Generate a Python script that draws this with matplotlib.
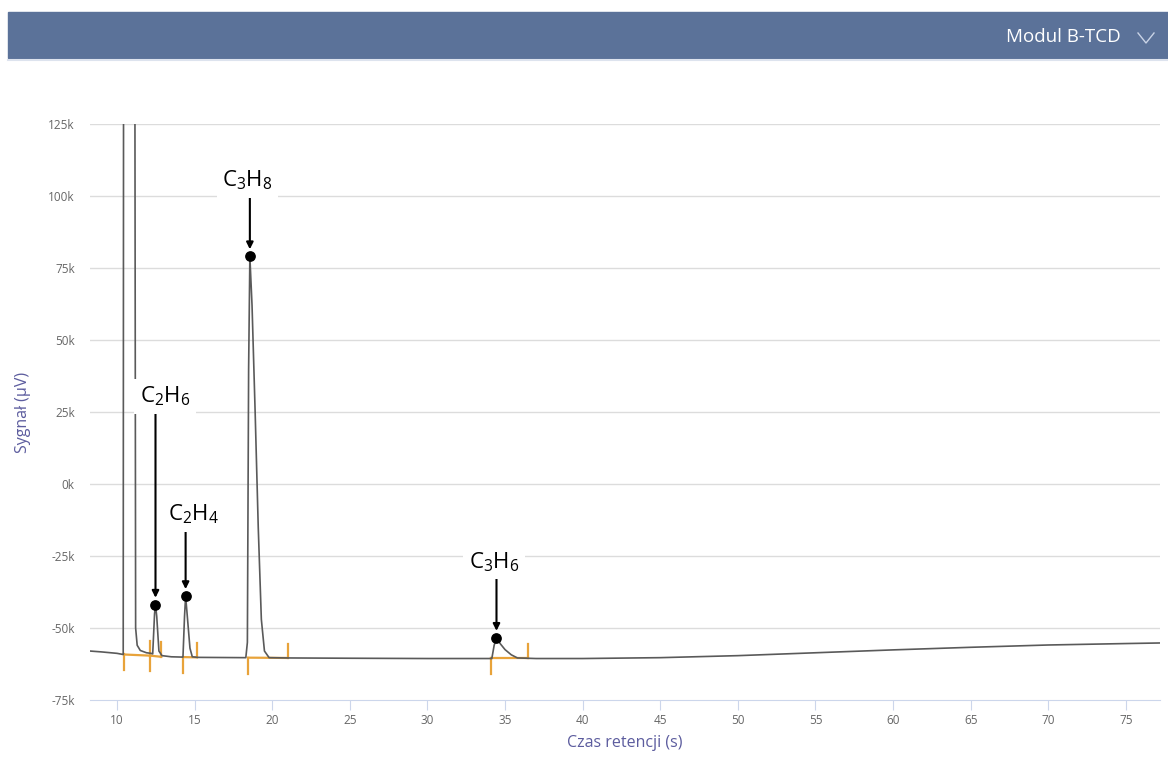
import matplotlib.pyplot as plt
from matplotlib.patches import Rectangle
from matplotlib.lines import Line2D

plt.rcParams['font.family'] = ['Open Sans', 'DejaVu Sans']
plt.rcParams['mathtext.fontset'] = 'custom'
plt.rcParams['mathtext.rm'] = 'Open Sans'
plt.rcParams['mathtext.it'] = 'Open Sans'

# detector trace: time (s) and signal (k uV)
time = [8.26, 9.0, 10.0, 10.4, 10.45, 11.05, 11.15, 11.2, 11.3, 11.5, 11.9, 12.2,
        12.3, 12.42, 12.48, 12.56, 12.7, 12.9, 13.5, 14.2,
        14.25, 14.35, 14.42, 14.5, 14.7, 14.85, 15.2,
        18.3, 18.4, 18.48, 18.56, 18.7, 18.9, 19.1, 19.3, 19.5, 19.8, 21.0,
        25.0, 30.0, 34.1,
        34.15, 34.3, 34.45, 34.7, 35.0, 35.4, 35.8, 37.0,
        40.0, 45.0, 50.0, 55.0, 60.0, 65.0, 70.0, 75.0, 77.2]
signal = [-58.0, -58.3, -58.8, -59.2, 400, 400, 150, -50, -56, -57.8, -58.6, -58.8,
          -59.0, -45, -42, -46, -58, -59.6, -60.0, -60.1,
          -60.1, -46, -39, -44, -57, -60.0, -60.2,
          -60.3, -55, 40, 79, 62, 25, -15, -47, -58, -60.3, -60.4,
          -60.5, -60.6, -60.6,
          -60.6, -56, -53.5, -55.5, -57.5, -59.3, -60.4, -60.6,
          -60.6, -60.3, -59.6, -58.6, -57.6, -56.7, -55.9, -55.4, -55.2]

# identified peaks: apex and label position
peak_names = [r'$\mathregular{C_2H_6}$', r'$\mathregular{C_2H_4}$',
              r'$\mathregular{C_3H_8}$', r'$\mathregular{C_3H_6}$']
peak_t = [12.48, 14.42, 18.56, 34.45]
peak_v = [-42, -39, 79, -53.5]
label_t = [13.1, 14.9, 18.4, 34.3]
label_v = [30.5, -10.5, 105.5, -27]
arrow_top = [25, -16.5, 100, -33]

# integration baselines (start, end) in s and k uV
int_start_t = [10.45, 12.15, 14.25, 18.45, 34.1]
int_start_v = [-59.2, -59.6, -60.1, -60.3, -60.5]
int_end_t = [12.15, 12.85, 15.15, 21.0, 36.45]
int_end_v = [-59.6, -60.0, -60.2, -60.4, -60.5]

y_ticks = [125, 100, 75, 50, 25, 0, -25, -50, -75]
x_ticks = list(range(10, 80, 5))

W, H = 1168, 763
fig = plt.figure(figsize=(W / 100, H / 100), dpi=100)

# header bar
fig.patches.append(Rectangle((8 / W, 1 - 58 / H), 1 - 8 / W, 46 / H,
                             transform=fig.transFigure, color='#5b7299', zorder=0))
fig.lines.append(Line2D([8 / W, 1], [1 - 60 / H] * 2, transform=fig.transFigure,
                        color='#dde3ee', lw=1.5))
fig.text(1121 / W, 1 - 37 / H, 'Modul B-TCD', color='white', fontsize=13.5,
         ha='right', va='center')
fig.lines.append(Line2D([1138 / W, 1146 / W, 1154 / W],
                        [1 - 33 / H, 1 - 43 / H, 1 - 33 / H],
                        transform=fig.transFigure, color='#c9d3e6', lw=1))

ax = fig.add_axes([90 / W, 1 - 700 / H, 1070 / W, 576 / H])
ax.set_xlim(8.26, 77.2)
ax.set_ylim(-75, 125)

for s in ['top', 'right', 'left']:
    ax.spines[s].set_visible(False)
ax.spines['bottom'].set_color('#ccd6eb')
ax.spines['bottom'].set_zorder(0)
ax.set_yticks(y_ticks)
ax.set_yticklabels([f'{v}k' for v in y_ticks])
ax.set_xticks(x_ticks)
ax.tick_params(axis='y', length=0, pad=11, labelsize=8.5, labelcolor='#666666')
ax.tick_params(axis='x', length=7, color='#ccd6eb', pad=3, labelsize=8.5,
               labelcolor='#666666')
for v in y_ticks[:-1]:
    ax.axhline(v, color='#dcdcdc', lw=1, zorder=0)

ax.plot(time, signal, color='#5a5a5a', lw=1.2, zorder=3)

# integration markers
orange = '#e8a33a'
for t0, v0, t1, v1 in zip(int_start_t, int_start_v, int_end_t, int_end_v):
    ax.plot([t0, t1], [v0, v1], color=orange, lw=1.6, zorder=2)
    ax.plot([t0, t0], [v0, v0 - 5.5], color=orange, lw=1.6, zorder=2)
    ax.plot([t1, t1], [v1, v1 + 5], color=orange, lw=1.6, zorder=2)

ax.scatter(peak_t, peak_v, s=45, color='black', zorder=5)
for name, pt, pv, lt, lv, at in zip(peak_names, peak_t, peak_v, label_t, label_v, arrow_top):
    ax.annotate('', xy=(pt, pv + 2.5), xytext=(pt, at),
                arrowprops=dict(arrowstyle='-|>', color='black', lw=1.5,
                                mutation_scale=10, shrinkA=0, shrinkB=0), zorder=5)
    ax.text(lt, lv, name, fontsize=16, ha='center', va='center', zorder=6,
            bbox=dict(facecolor='white', edgecolor='none', pad=4))

ax.set_xlabel('Czas retencji (s)', color='#5c5c9e', fontsize=11.5, labelpad=6)
ax.set_ylabel('Sygnał (µV)', color='#5c5c9e', fontsize=11.5, labelpad=12)

fig.savefig('out.png', dpi=100)
